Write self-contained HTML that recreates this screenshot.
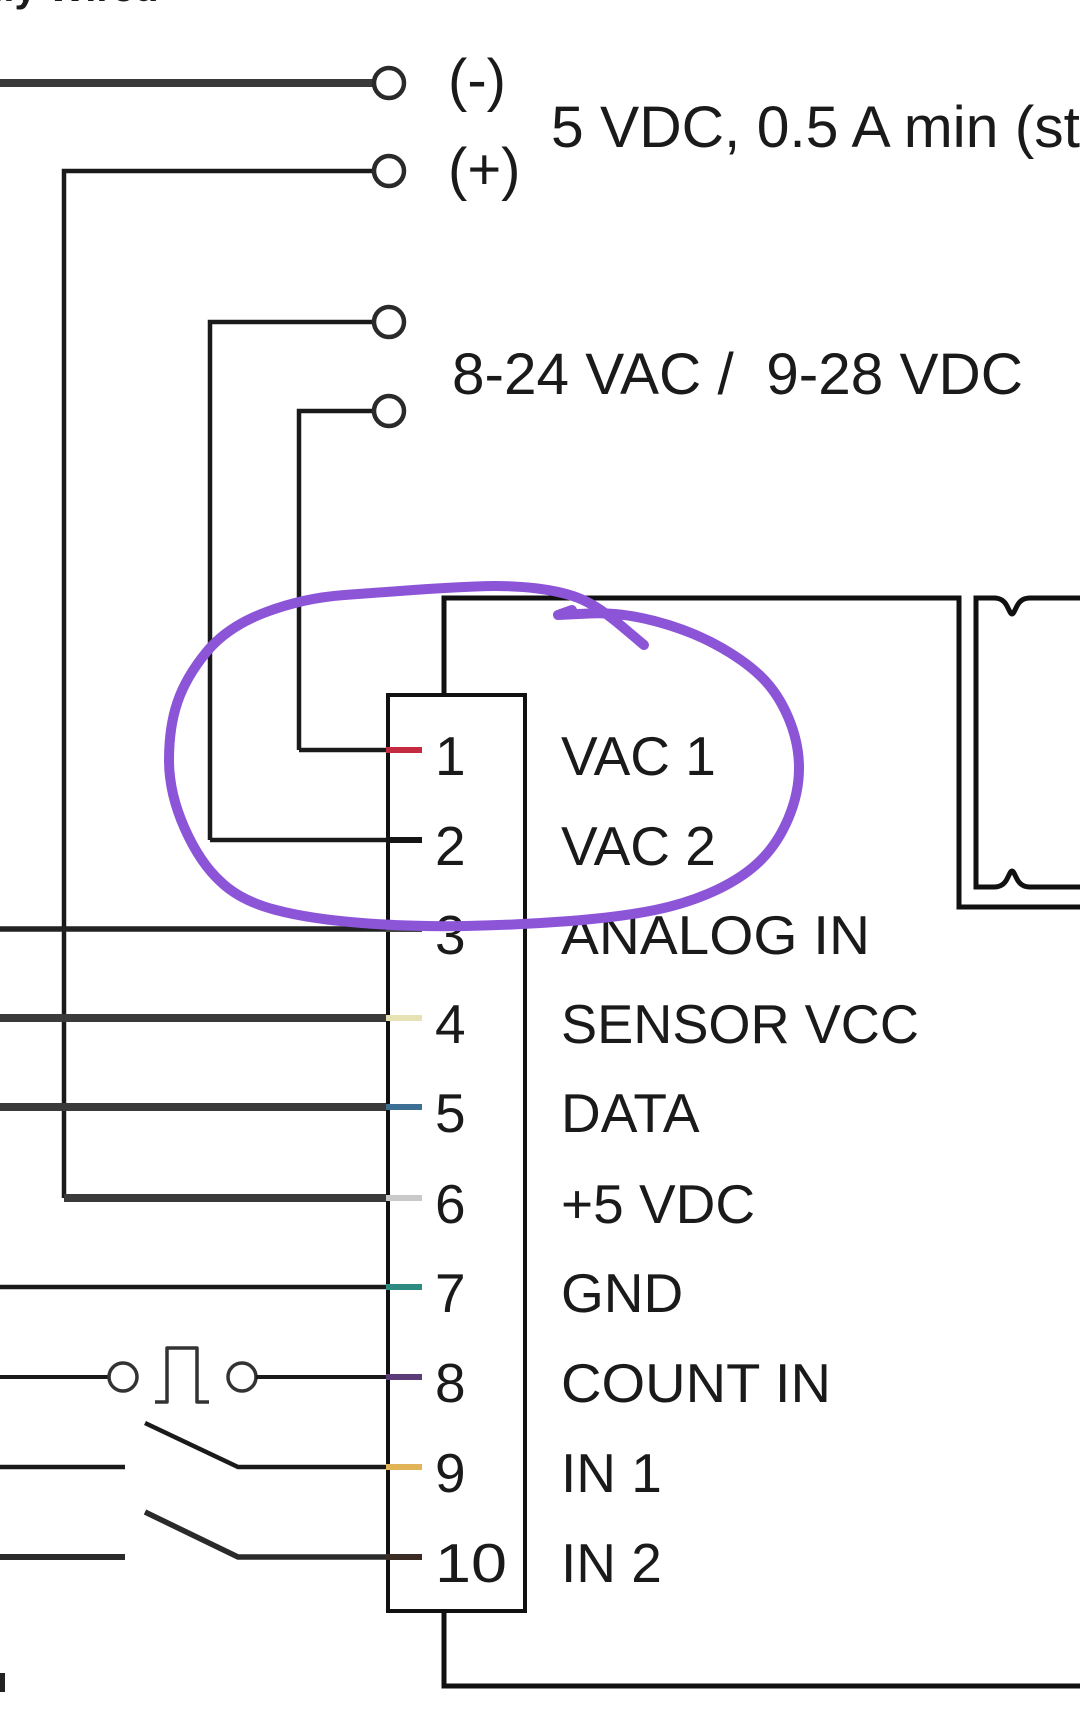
<!DOCTYPE html>
<html>
<head>
<meta charset="utf-8">
<style>
html,body{margin:0;padding:0;background:#fff;}
svg{display:block;}
text{font-family:"Liberation Sans",Arial,sans-serif;fill:#1a1a1a;}
</style>
</head>
<body>
<svg width="1080" height="1728" viewBox="0 0 1080 1728" xmlns="http://www.w3.org/2000/svg">
<rect width="1080" height="1728" fill="#fff"/>

<!-- cut-off title at top -->
<text x="-30" y="1" font-size="40" font-weight="bold" fill="#333">ally Wired</text>

<!-- top terminals -->
<g fill="none" stroke-linecap="butt">
  <line x1="0" y1="83" x2="374" y2="83" stroke="#3a3a3a" stroke-width="8"/>
  <path d="M64,1198 V171 H374" stroke="#1a1a1a" stroke-width="4.5"/>
  <path d="M210,840 V322 H374" stroke="#1a1a1a" stroke-width="4.5"/>
  <path d="M299,750 V411 H374" stroke="#1a1a1a" stroke-width="4.5"/>
  <circle cx="389" cy="83" r="15" stroke="#2a2a2a" stroke-width="4.5" fill="#fff"/>
  <circle cx="389" cy="171" r="15" stroke="#2a2a2a" stroke-width="4.5" fill="#fff"/>
  <circle cx="389" cy="322" r="15" stroke="#2a2a2a" stroke-width="4.5" fill="#fff"/>
  <circle cx="389" cy="411" r="15" stroke="#2a2a2a" stroke-width="4.5" fill="#fff"/>
</g>

<text x="448" y="100" font-size="58">(-)</text>
<text x="448" y="189" font-size="58">(+)</text>
<text x="551" y="147" font-size="58" textLength="529" lengthAdjust="spacingAndGlyphs">5 VDC, 0.5 A min (st</text>
<text x="452" y="394" font-size="58" style="white-space:pre" textLength="571" lengthAdjust="spacingAndGlyphs">8-24 VAC /  9-28 VDC</text>

<!-- right side structure -->
<g fill="none" stroke="#111" stroke-width="5" stroke-linejoin="miter">
  <path d="M444,695 V598 H959 V907 H1085"/>
  <path d="M1085,598 H1030 Q1021,598 1017,606 L1014,612 Q1012,616 1010,612 L1007,606 Q1003,598 994,598 H976 V887 H994 Q1003,887 1007,879 L1010,873 Q1012,869 1014,873 L1017,879 Q1021,887 1030,887 H1085"/>
  <path d="M444,1611 V1686 H1085"/>
</g>

<!-- left pin wires -->
<g fill="none" stroke-linecap="butt">
  <line x1="210" y1="840" x2="388" y2="840" stroke="#1a1a1a" stroke-width="4.5"/>
  <line x1="299" y1="750" x2="388" y2="750" stroke="#1a1a1a" stroke-width="4.5"/>
  <line x1="0" y1="929" x2="388" y2="929" stroke="#222" stroke-width="5.5"/>
  <line x1="0" y1="1018" x2="388" y2="1018" stroke="#3a3a3a" stroke-width="8"/>
  <line x1="0" y1="1107" x2="388" y2="1107" stroke="#3a3a3a" stroke-width="8"/>
  <line x1="64" y1="1198" x2="388" y2="1198" stroke="#3a3a3a" stroke-width="8"/>
  <line x1="0" y1="1287" x2="388" y2="1287" stroke="#1a1a1a" stroke-width="4.5"/>
  <!-- pin 8 -->
  <line x1="0" y1="1377" x2="108" y2="1377" stroke="#1a1a1a" stroke-width="4"/>
  <circle cx="123" cy="1377" r="14" stroke="#333" stroke-width="3.5" fill="#fff"/>
  <polyline points="155,1402 167,1402 167,1348 197,1348 197,1402 209,1402" stroke="#333" stroke-width="3.5" stroke-linejoin="round"/>
  <circle cx="242" cy="1377" r="14" stroke="#333" stroke-width="3.5" fill="#fff"/>
  <line x1="256" y1="1377" x2="388" y2="1377" stroke="#1a1a1a" stroke-width="4"/>
  <!-- pin 9 -->
  <line x1="0" y1="1467" x2="125" y2="1467" stroke="#1a1a1a" stroke-width="4.5"/>
  <polyline points="145,1423 238,1467 388,1467" stroke="#1a1a1a" stroke-width="4.5"/>
  <!-- pin 10 -->
  <line x1="0" y1="1557" x2="125" y2="1557" stroke="#2a2a2a" stroke-width="6"/>
  <polyline points="145,1512 238,1557 388,1557" stroke="#2a2a2a" stroke-width="5.5"/>
</g>

<!-- connector box -->
<rect x="388" y="695" width="137" height="916" fill="none" stroke="#111" stroke-width="4"/>

<!-- pin color stubs -->
<g stroke-width="6" fill="none">
  <line x1="386" y1="750" x2="422" y2="750" stroke="#c42a40"/>
  <line x1="386" y1="840" x2="422" y2="840" stroke="#151515"/>
  <line x1="386" y1="929" x2="422" y2="929" stroke="#444"/>
  <line x1="386" y1="1018" x2="422" y2="1018" stroke="#e6e2b4"/>
  <line x1="386" y1="1107" x2="422" y2="1107" stroke="#3c6f93"/>
  <line x1="386" y1="1198" x2="422" y2="1198" stroke="#c9c9c9"/>
  <line x1="386" y1="1287" x2="422" y2="1287" stroke="#2c8a80"/>
  <line x1="386" y1="1377" x2="422" y2="1377" stroke="#5a3c78"/>
  <line x1="386" y1="1467" x2="422" y2="1467" stroke="#e2b458"/>
  <line x1="386" y1="1557" x2="422" y2="1557" stroke="#3a2c24"/>
</g>

<!-- pin numbers and labels -->
<g font-size="55">
  <text x="435" y="775">1</text><text x="561" y="775">VAC 1</text>
  <text x="435" y="865">2</text><text x="561" y="865">VAC 2</text>
  <text x="435" y="954">3</text><text x="561" y="954" textLength="309" lengthAdjust="spacingAndGlyphs">ANALOG IN</text>
  <text x="435" y="1043">4</text><text x="561" y="1043" textLength="358" lengthAdjust="spacingAndGlyphs">SENSOR VCC</text>
  <text x="435" y="1132">5</text><text x="561" y="1132">DATA</text>
  <text x="435" y="1223">6</text><text x="561" y="1223">+5 VDC</text>
  <text x="435" y="1312">7</text><text x="561" y="1312">GND</text>
  <text x="435" y="1402">8</text><text x="561" y="1402" textLength="270" lengthAdjust="spacingAndGlyphs">COUNT IN</text>
  <text x="435" y="1492">9</text><text x="561" y="1492">IN 1</text>
  <text x="435" y="1582" textLength="72" lengthAdjust="spacingAndGlyphs">10</text><text x="561" y="1582">IN 2</text>
</g>

<!-- bottom-left mark -->
<rect x="0" y="1673" width="5" height="19" fill="#222"/>

<!-- purple hand-drawn circle -->
<path d="M644,645 L621.5,626 Q599,607 582,599.5 Q565,592 537.5,588.5 Q510,585 475.5,586.5 Q441,588 413.5,590 Q386,592 344.5,595 Q303,598 265,612.5 Q227,627 206.5,652 Q186,677 177.5,702 Q169,727 169,760 Q169,793 184.5,828 Q200,863 221,882 Q241,901 276,910 Q310,919 362,923 Q413,927 466,926 Q518,925 570,921 Q621,917 655,910 Q689,903 716.5,890 Q744,877 761,860 Q778,843 788.5,818 Q799,793 799,768 Q799,743 788.5,718 Q778,693 761,676.5 Q744,660 716.5,645 Q689,630 654.5,621 Q620,612 589,613.5 L558,615 L572,610" fill="none" stroke="#8c55d8" stroke-width="10" stroke-linecap="round" stroke-linejoin="round"/>
</svg>
</body>
</html>
